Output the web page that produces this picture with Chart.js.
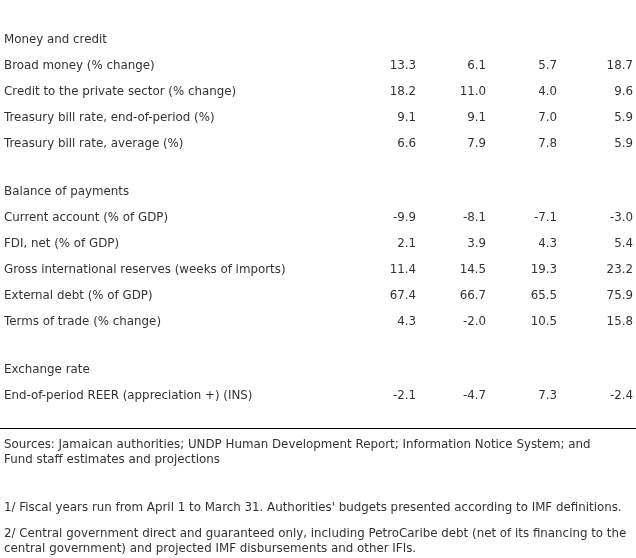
<!DOCTYPE html>
<html>
<head>
<meta charset="utf-8">
<script src="https://cdn.jsdelivr.net/npm/chart.js@4/dist/chart.umd.min.js"></script>
<style>
html,body{margin:0;padding:0;background:#fff;}
#wrap{width:636px;height:558px;}
</style>
</head>
<body>
<div id="wrap"><canvas id="c" width="636" height="558"></canvas></div>
<script>
// ---- data ----
const rowLabels = [
  "Money and credit",
  "Broad money (% change)",
  "Credit to the private sector (% change)",
  "Treasury bill rate, end-of-period (%)",
  "Treasury bill rate, average (%)",
  "",
  "Balance of payments",
  "Current account (% of GDP)",
  "FDI, net (% of GDP)",
  "Gross international reserves (weeks of imports)",
  "External debt (% of GDP)",
  "Terms of trade (% change)",
  "",
  "Exchange rate",
  "End-of-period REER (appreciation +) (INS)"
];
const col1 = [null, 13.3, 18.2, 9.1, 6.6, null, null, -9.9, 2.1, 11.4, 67.4, 4.3, null, null, -2.1];
const col2 = [null, 6.1, 11.0, 9.1, 7.9, null, null, -8.1, 3.9, 14.5, 66.7, -2.0, null, null, -4.7];
const col3 = [null, 5.7, 4.0, 7.0, 7.8, null, null, -7.1, 4.3, 19.3, 65.5, 10.5, null, null, 7.3];
const col4 = [null, 18.7, 9.6, 5.9, 5.9, null, null, -3.0, 5.4, 23.2, 75.9, 15.8, null, null, -2.4];
const sourceLines = [
  "Sources: Jamaican authorities; UNDP Human Development Report; Information Notice System; and",
  "Fund staff estimates and projections"
];
const noteLines = [
  "1/ Fiscal years run from April 1 to March 31. Authorities' budgets presented according to IMF definitions.",
  "2/ Central government direct and guaranteed only, including PetroCaribe debt (net of its financing to the",
  "central government) and projected IMF disbursements and other IFIs."
];

// ---- layout ----
const blankRowHeight = 0.846;          // blank separator rows are shorter
const colPos = [1, 1.968, 2.95, 4];     // column positions on the x scale (uneven widths)
const rowPos = [];
{
  let p = 0;
  for (let i = 0; i < rowLabels.length; i++) {
    rowPos.push(p);
    p += (rowLabels[i] === "" ? blankRowHeight : 1);
  }
}
const FONT = "11.85px 'DejaVu Sans', Verdana, sans-serif";
const TEXT = "#333333";

const cols = [col1, col2, col3, col4];
const datasets = cols.map((arr, ci) => ({
  label: "col" + (ci + 1),
  data: arr.map((v, ri) => v === null ? null : { x: colPos[ci], y: rowPos[ri], v: v }).filter(d => d),
  pointRadius: 0,
  showLine: false
}));
datasets.push({
  label: "labels",
  data: rowLabels.map((t, ri) => t === "" ? null : { x: 0, y: rowPos[ri], t: t }).filter(d => d),
  pointRadius: 0,
  showLine: false
});

const tablePlugin = {
  id: "tableText",
  afterDatasetsDraw(chart) {
    const ctx = chart.ctx;
    const ys = chart.scales.y;
    ctx.save();
    ctx.font = FONT;
    ctx.fillStyle = TEXT;
    ctx.textBaseline = "alphabetic";
    chart.data.datasets.forEach((ds, di) => {
      const meta = chart.getDatasetMeta(di);
      meta.data.forEach((el, i) => {
        const d = ds.data[i];
        if (d.t !== undefined) {
          ctx.textAlign = "left";
          ctx.fillText(d.t, chart.chartArea.left + 4, el.y);
        } else {
          ctx.textAlign = "right";
          ctx.fillText(d.v.toFixed(1), el.x, el.y);
        }
      });
    });
    const ruleY = Math.round(ys.getPixelForValue(rowPos[rowPos.length - 1] + 1.115)) + 0.5;
    ctx.strokeStyle = "#000";
    ctx.lineWidth = 1;
    ctx.beginPath();
    ctx.moveTo(chart.chartArea.left, ruleY);
    ctx.lineTo(chart.chartArea.right, ruleY);
    ctx.stroke();
    ctx.textAlign = "left";
    const lx = chart.chartArea.left + 4;
    ctx.fillText(sourceLines[0], lx, ruleY + 19);
    ctx.fillText(sourceLines[1], lx, ruleY + 34);
    ctx.fillText(noteLines[0], lx, ruleY + 82);
    ctx.fillText(noteLines[1], lx, ruleY + 108);
    ctx.fillText(noteLines[2], lx, ruleY + 123);
    ctx.restore();
  }
};

const xUnit = 72.33, xFirst = 416;
new Chart(document.getElementById("c"), {
  type: "scatter",
  data: { datasets: datasets },
  options: {
    responsive: false,
    animation: false,
    events: [],
    layout: { padding: 0 },
    plugins: { legend: { display: false }, tooltip: { enabled: false }, title: { display: false } },
    scales: {
      x: { type: "linear", display: false, min: 1 - xFirst / xUnit, max: 1 - xFirst / xUnit + 636 / xUnit },
      y: { type: "linear", display: false, reverse: true, min: -43 / 26, max: (558 - 43) / 26 }
    }
  },
  plugins: [tablePlugin]
});
</script>
</body>
</html>
